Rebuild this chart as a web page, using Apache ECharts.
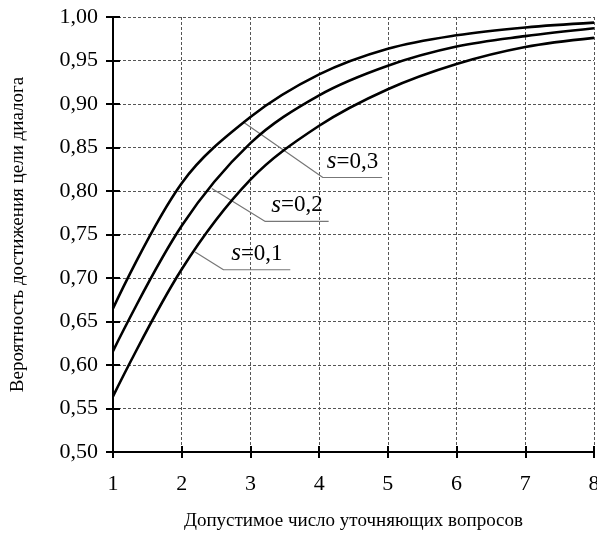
<!DOCTYPE html>
<html>
<head>
<meta charset="utf-8">
<script src="https://cdn.jsdelivr.net/npm/echarts@6/dist/echarts.min.js"></script>
<style>
  html, body { margin: 0; padding: 0; background: #fff; }
  #chart { width: 597px; height: 534px; }
</style>
</head>
<body>
<div id="chart"></div>
<script>
// допустимое число уточняющих вопросов
var questions = [1, 2, 3, 4, 5, 6, 7, 8];
// вероятность достижения цели диалога
var probS01 = [0.564, 0.710, 0.813, 0.875, 0.917, 0.946, 0.9655, 0.976];
var probS02 = [0.616, 0.760, 0.855, 0.910, 0.944, 0.966, 0.978, 0.987];
var probS03 = [0.665, 0.809, 0.885, 0.934, 0.9635, 0.979, 0.988, 0.9935];
var yTicks = [0.50, 0.55, 0.60, 0.65, 0.70, 0.75, 0.80, 0.85, 0.90, 0.95, 1.00];

// подписи кривых: точка на кривой, излом выноски, конец подчёркивания
var labelTexts = ['0,1', '0,2', '0,3'];
var labelAnchors = [[2.195, 0.730], [2.439, 0.803], [2.90, 0.879]];
var labelCorners = [[2.608, 0.7095], [3.216, 0.765], [4.054, 0.8155]];
var labelEnds = [3.58, 4.138, 4.917];

var FONT = '"Liberation Serif", "Times New Roman", serif';

function zip(xs, ys) {
  return xs.map(function (x, i) { return [x, ys[i]]; });
}

var curveStyle = { color: '#000', width: 2.6 };

var series = [
  { name: 's=0,1', data: zip(questions, probS01) },
  { name: 's=0,2', data: zip(questions, probS02) },
  { name: 's=0,3', data: zip(questions, probS03) }
].map(function (s) {
  return {
    name: s.name,
    type: 'line',
    xAxisIndex: 0,
    yAxisIndex: 0,
    smooth: 0.35,
    symbol: 'none',
    data: s.data,
    lineStyle: curveStyle,
    z: 3
  };
});

// выноски с подписями
labelTexts.forEach(function (t, i) {
  var c = labelCorners[i];
  var mid = (c[0] + labelEnds[i]) / 2;
  series.push({
    type: 'line',
    xAxisIndex: 0,
    yAxisIndex: 0,
    symbol: 'circle',
    symbolSize: 1,
    showSymbol: true,
    silent: true,
    itemStyle: { color: 'rgba(0,0,0,0)', borderWidth: 0 },
    data: [
      labelAnchors[i],
      c,
      {
        value: [mid, c[1]],
        label: {
          show: true,
          position: 'top',
          distance: 3,
          formatter: '{s|s}{n|=' + t + '}',
          rich: {
            s: { fontFamily: FONT, fontStyle: 'italic', fontSize: 25, color: '#000' },
            n: { fontFamily: FONT, fontSize: 23, color: '#000' }
          }
        }
      },
      [labelEnds[i], c[1]]
    ],
    lineStyle: { color: '#777', width: 1.2 },
    z: 2
  });
});

var myChart = echarts.init(document.getElementById('chart'), null, { renderer: 'canvas' });

var gridBox = { left: 113, right: 3, top: 17, bottom: 82, containLabel: false, outerBoundsMode: 'none' };

var myOption = {
  backgroundColor: '#fff',
  animation: false,
  grid: [
    Object.assign({}, gridBox),
    Object.assign({}, gridBox)
  ],
  xAxis: [
    {
      type: 'value',
      gridIndex: 0,
      min: 1,
      max: 8,
      interval: 1,
      name: 'Допустимое число уточняющих вопросов',
      nameLocation: 'middle',
      nameGap: 60,
      nameTextStyle: { fontFamily: FONT, fontSize: 19, color: '#000' },
      axisLine: { onZero: false, lineStyle: { color: '#000', width: 2 } },
      axisTick: { show: true, inside: false, length: 6, lineStyle: { color: '#000', width: 2 } },
      axisLabel: { margin: 21, fontFamily: FONT, fontSize: 22, color: '#000' },
      splitLine: { show: true, lineStyle: { color: '#555', width: 1, type: [3, 2] } }
    },
    {
      type: 'value',
      gridIndex: 1,
      min: 1,
      max: 8,
      interval: 1,
      axisLine: { show: false },
      axisTick: { show: true, inside: true, length: 6, lineStyle: { color: '#000', width: 2 } },
      axisLabel: { show: false },
      splitLine: { show: false }
    }
  ],
  yAxis: [
    {
      type: 'value',
      gridIndex: 0,
      min: yTicks[0],
      max: yTicks[yTicks.length - 1],
      interval: 0.05,
      name: 'Вероятность достижения цели диалога',
      nameLocation: 'middle',
      nameGap: 85,
      nameTextStyle: { fontFamily: FONT, fontSize: 19, color: '#000' },
      axisLine: { onZero: false, lineStyle: { color: '#000', width: 2 } },
      axisTick: { show: true, inside: false, length: 7, lineStyle: { color: '#000', width: 2 } },
      axisLabel: {
        margin: 15,
        fontFamily: FONT,
        fontSize: 22,
        color: '#000',
        formatter: function (v) { return v.toFixed(2).replace('.', ','); }
      },
      splitLine: { show: true, lineStyle: { color: '#555', width: 1, type: [3, 2] } }
    },
    {
      type: 'value',
      gridIndex: 1,
      min: yTicks[0],
      max: yTicks[yTicks.length - 1],
      interval: 0.05,
      axisLine: { show: false },
      axisTick: { show: true, inside: true, length: 7, lineStyle: { color: '#000', width: 2 } },
      axisLabel: { show: false },
      splitLine: { show: false }
    }
  ],
  series: series
};

myChart.setOption(myOption);
</script>
</body>
</html>
